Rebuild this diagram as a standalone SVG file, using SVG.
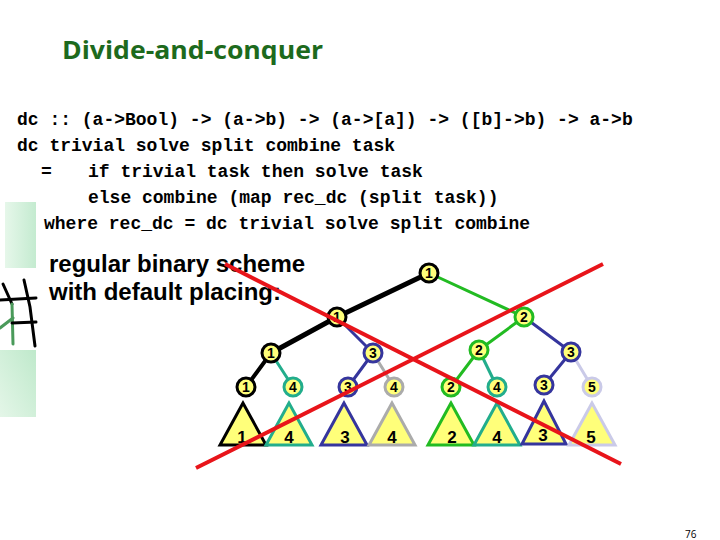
<svg xmlns="http://www.w3.org/2000/svg" width="720" height="540" viewBox="0 0 720 540">
<defs>
<linearGradient id="gTop" x1="0" y1="0" x2="1" y2="0">
<stop offset="0" stop-color="#e6f7ea"/>
<stop offset="1" stop-color="#c4ebd0"/>
</linearGradient>
<linearGradient id="gBot" x1="0" y1="1" x2="1" y2="0">
<stop offset="0" stop-color="#e4f6e8"/>
<stop offset="1" stop-color="#bfe9cb"/>
</linearGradient>
<style>
.title{font-family:"Open Sans","Noto Sans",sans-serif;font-weight:bold;font-size:25px;fill:#1d6a1d}
.code{font-family:"Liberation Mono","Courier New",monospace;font-weight:bold;font-size:18px;fill:#000;white-space:pre}
.note{font-family:"Liberation Sans",Arial,sans-serif;font-weight:bold;font-size:24px;fill:#000}
.nl{font-family:"Liberation Sans",Arial,sans-serif;font-weight:bold;font-size:14px;fill:#000;text-anchor:middle}
.tl{font-family:"Liberation Sans",Arial,sans-serif;font-weight:bold;font-size:17px;fill:#000;text-anchor:middle}
.nd{fill:#ffff7a;stroke-width:3}
.tri{fill:#ffff7a;stroke-width:3;stroke-linejoin:miter}
.e{fill:none;stroke-linecap:round}
.k{stroke:#000}
.g{stroke:#22bb22}
.b{stroke:#35359d}
.t{stroke:#22ad8c}
.gr{stroke:#ababab}
.lv{stroke:#cacae8}
.red{stroke:#e8141a;stroke-width:4;fill:none}
.pg{font-family:"Open Sans","Noto Sans",sans-serif;font-size:10px;fill:#000}
</style>
</defs>
<rect width="720" height="540" fill="#fff"/>

<g id="decor">
<rect x="5" y="202" width="31" height="66" fill="url(#gTop)"/>
<rect x="0" y="350" width="36" height="67" fill="url(#gBot)"/>
<g fill="none" stroke-linecap="round" stroke-width="3">
<path d="M3,284 L12,304" stroke="#000"/>
<path d="M12,304 L13,344" stroke="#4a9a5a"/>
<path d="M0,328 L13,318" stroke="#4a9a5a"/>
<path d="M24,280 L30,307 L35,346" stroke="#000"/>
<path d="M0,300 L36,298" stroke="#000"/>
<path d="M12,323 L36,322" stroke="#000"/>
</g>
</g>

<text class="title" x="62" y="59" textLength="261" lengthAdjust="spacingAndGlyphs">Divide-and-conquer</text>

<g id="code">
<text class="code" x="17" y="125">dc :: (a-&gt;Bool) -&gt; (a-&gt;b) -&gt; (a-&gt;[a]) -&gt; ([b]-&gt;b) -&gt; a-&gt;b</text>
<text class="code" x="17" y="151">dc trivial solve split combine task</text>
<text class="code" x="41" y="177">=</text>
<text class="code" x="88" y="177">if trivial task then solve task</text>
<text class="code" x="88" y="203">else combine (map rec_dc (split task))</text>
<text class="code" x="44" y="229">where rec_dc = dc trivial solve split combine</text>
</g>

<g id="note">
<text class="note" x="49" y="272">regular binary scheme</text>
<text class="note" x="49" y="300">with default placing:</text>
</g>

<g id="connectors">
<line class="e k" stroke-width="5" x1="429" y1="273" x2="337" y2="317"/>
<line class="e g" stroke-width="3" x1="429" y1="273" x2="524" y2="317"/>
<line class="e k" stroke-width="5" x1="337" y1="317" x2="271" y2="353"/>
<line class="e b" stroke-width="3" x1="337" y1="317" x2="373" y2="353"/>
<line class="e k" stroke-width="4" x1="271" y1="353" x2="246" y2="387"/>
<line class="e t" stroke-width="3" x1="271" y1="353" x2="293" y2="387"/>
<line class="e b" stroke-width="3" x1="373" y1="353" x2="348" y2="387"/>
<line class="e gr" stroke-width="3" x1="373" y1="353" x2="394" y2="387"/>
<line class="e g" stroke-width="3" x1="524" y1="317" x2="479" y2="350"/>
<line class="e b" stroke-width="3" x1="524" y1="317" x2="571" y2="352"/>
<line class="e g" stroke-width="3" x1="479" y1="350" x2="451" y2="387"/>
<line class="e t" stroke-width="3" x1="479" y1="350" x2="497" y2="387"/>
<line class="e b" stroke-width="3" x1="571" y1="352" x2="544" y2="385"/>
<line class="e lv" stroke-width="3" x1="571" y1="352" x2="592" y2="387"/>
</g>

<g id="n-root"><circle class="nd k" cx="429" cy="273" r="9"/><text class="nl" x="429" y="278">1</text></g>
<g id="n-l"><circle class="nd k" cx="337" cy="317" r="9"/><text class="nl" x="337" y="322">1</text></g>
<g id="n-r"><circle class="nd g" cx="524" cy="317" r="9"/><text class="nl" x="524" y="322">2</text></g>
<g id="n-ll"><circle class="nd k" cx="271" cy="353" r="9"/><text class="nl" x="271" y="358">1</text></g>
<g id="n-lr"><circle class="nd b" cx="373" cy="353" r="9"/><text class="nl" x="373" y="358">3</text></g>
<g id="n-rl"><circle class="nd g" cx="479" cy="350" r="9"/><text class="nl" x="479" y="355">2</text></g>
<g id="n-rr"><circle class="nd b" cx="571" cy="352" r="9"/><text class="nl" x="571" y="357">3</text></g>
<g id="n-lll"><circle class="nd k" cx="246" cy="387" r="9"/><text class="nl" x="246" y="392">1</text></g>
<g id="n-llr"><circle class="nd t" cx="293" cy="387" r="9"/><text class="nl" x="293" y="392">4</text></g>
<g id="n-lrl"><circle class="nd b" cx="348" cy="387" r="9"/><text class="nl" x="348" y="392">3</text></g>
<g id="n-lrr"><circle class="nd gr" cx="394" cy="387" r="9"/><text class="nl" x="394" y="392">4</text></g>
<g id="n-rll"><circle class="nd g" cx="451" cy="387" r="9"/><text class="nl" x="451" y="392">2</text></g>
<g id="n-rlr"><circle class="nd t" cx="497" cy="387" r="9"/><text class="nl" x="497" y="392">4</text></g>
<g id="n-rrl"><circle class="nd b" cx="544" cy="385" r="9"/><text class="nl" x="544" y="390">3</text></g>
<g id="n-rrr"><circle class="nd lv" cx="592" cy="387" r="9"/><text class="nl" x="592" y="392">5</text></g>

<g id="t1"><polygon class="tri k" points="243,403 220,445 266,445"/><text class="tl" x="242" y="443">1</text></g>
<g id="t2"><polygon class="tri t" points="289,403 266,445 312,445"/><text class="tl" x="289" y="443">4</text></g>
<g id="t3"><polygon class="tri b" points="344,403 321,445 367,445"/><text class="tl" x="345" y="443">3</text></g>
<g id="t4"><polygon class="tri gr" points="392,403 369,445 415,445"/><text class="tl" x="392" y="443">4</text></g>
<g id="t5"><polygon class="tri g" points="451,403 428,445 474,445"/><text class="tl" x="452" y="443">2</text></g>
<g id="t6"><polygon class="tri t" points="497,403 474,445 520,445"/><text class="tl" x="497" y="443">4</text></g>
<g id="t7"><polygon class="tri b" points="544,401 522,444 566,444"/><text class="tl" x="543" y="441">3</text></g>
<g id="t8"><polygon class="tri lv" points="592,403 569,445 615,445"/><text class="tl" x="591" y="443">5</text></g>

<g id="cross">
<line class="red" x1="225" y1="264" x2="621" y2="464"/>
<line class="red" x1="603" y1="264" x2="196" y2="468"/>
</g>

<text class="pg" x="685" y="538">76</text>
</svg>
